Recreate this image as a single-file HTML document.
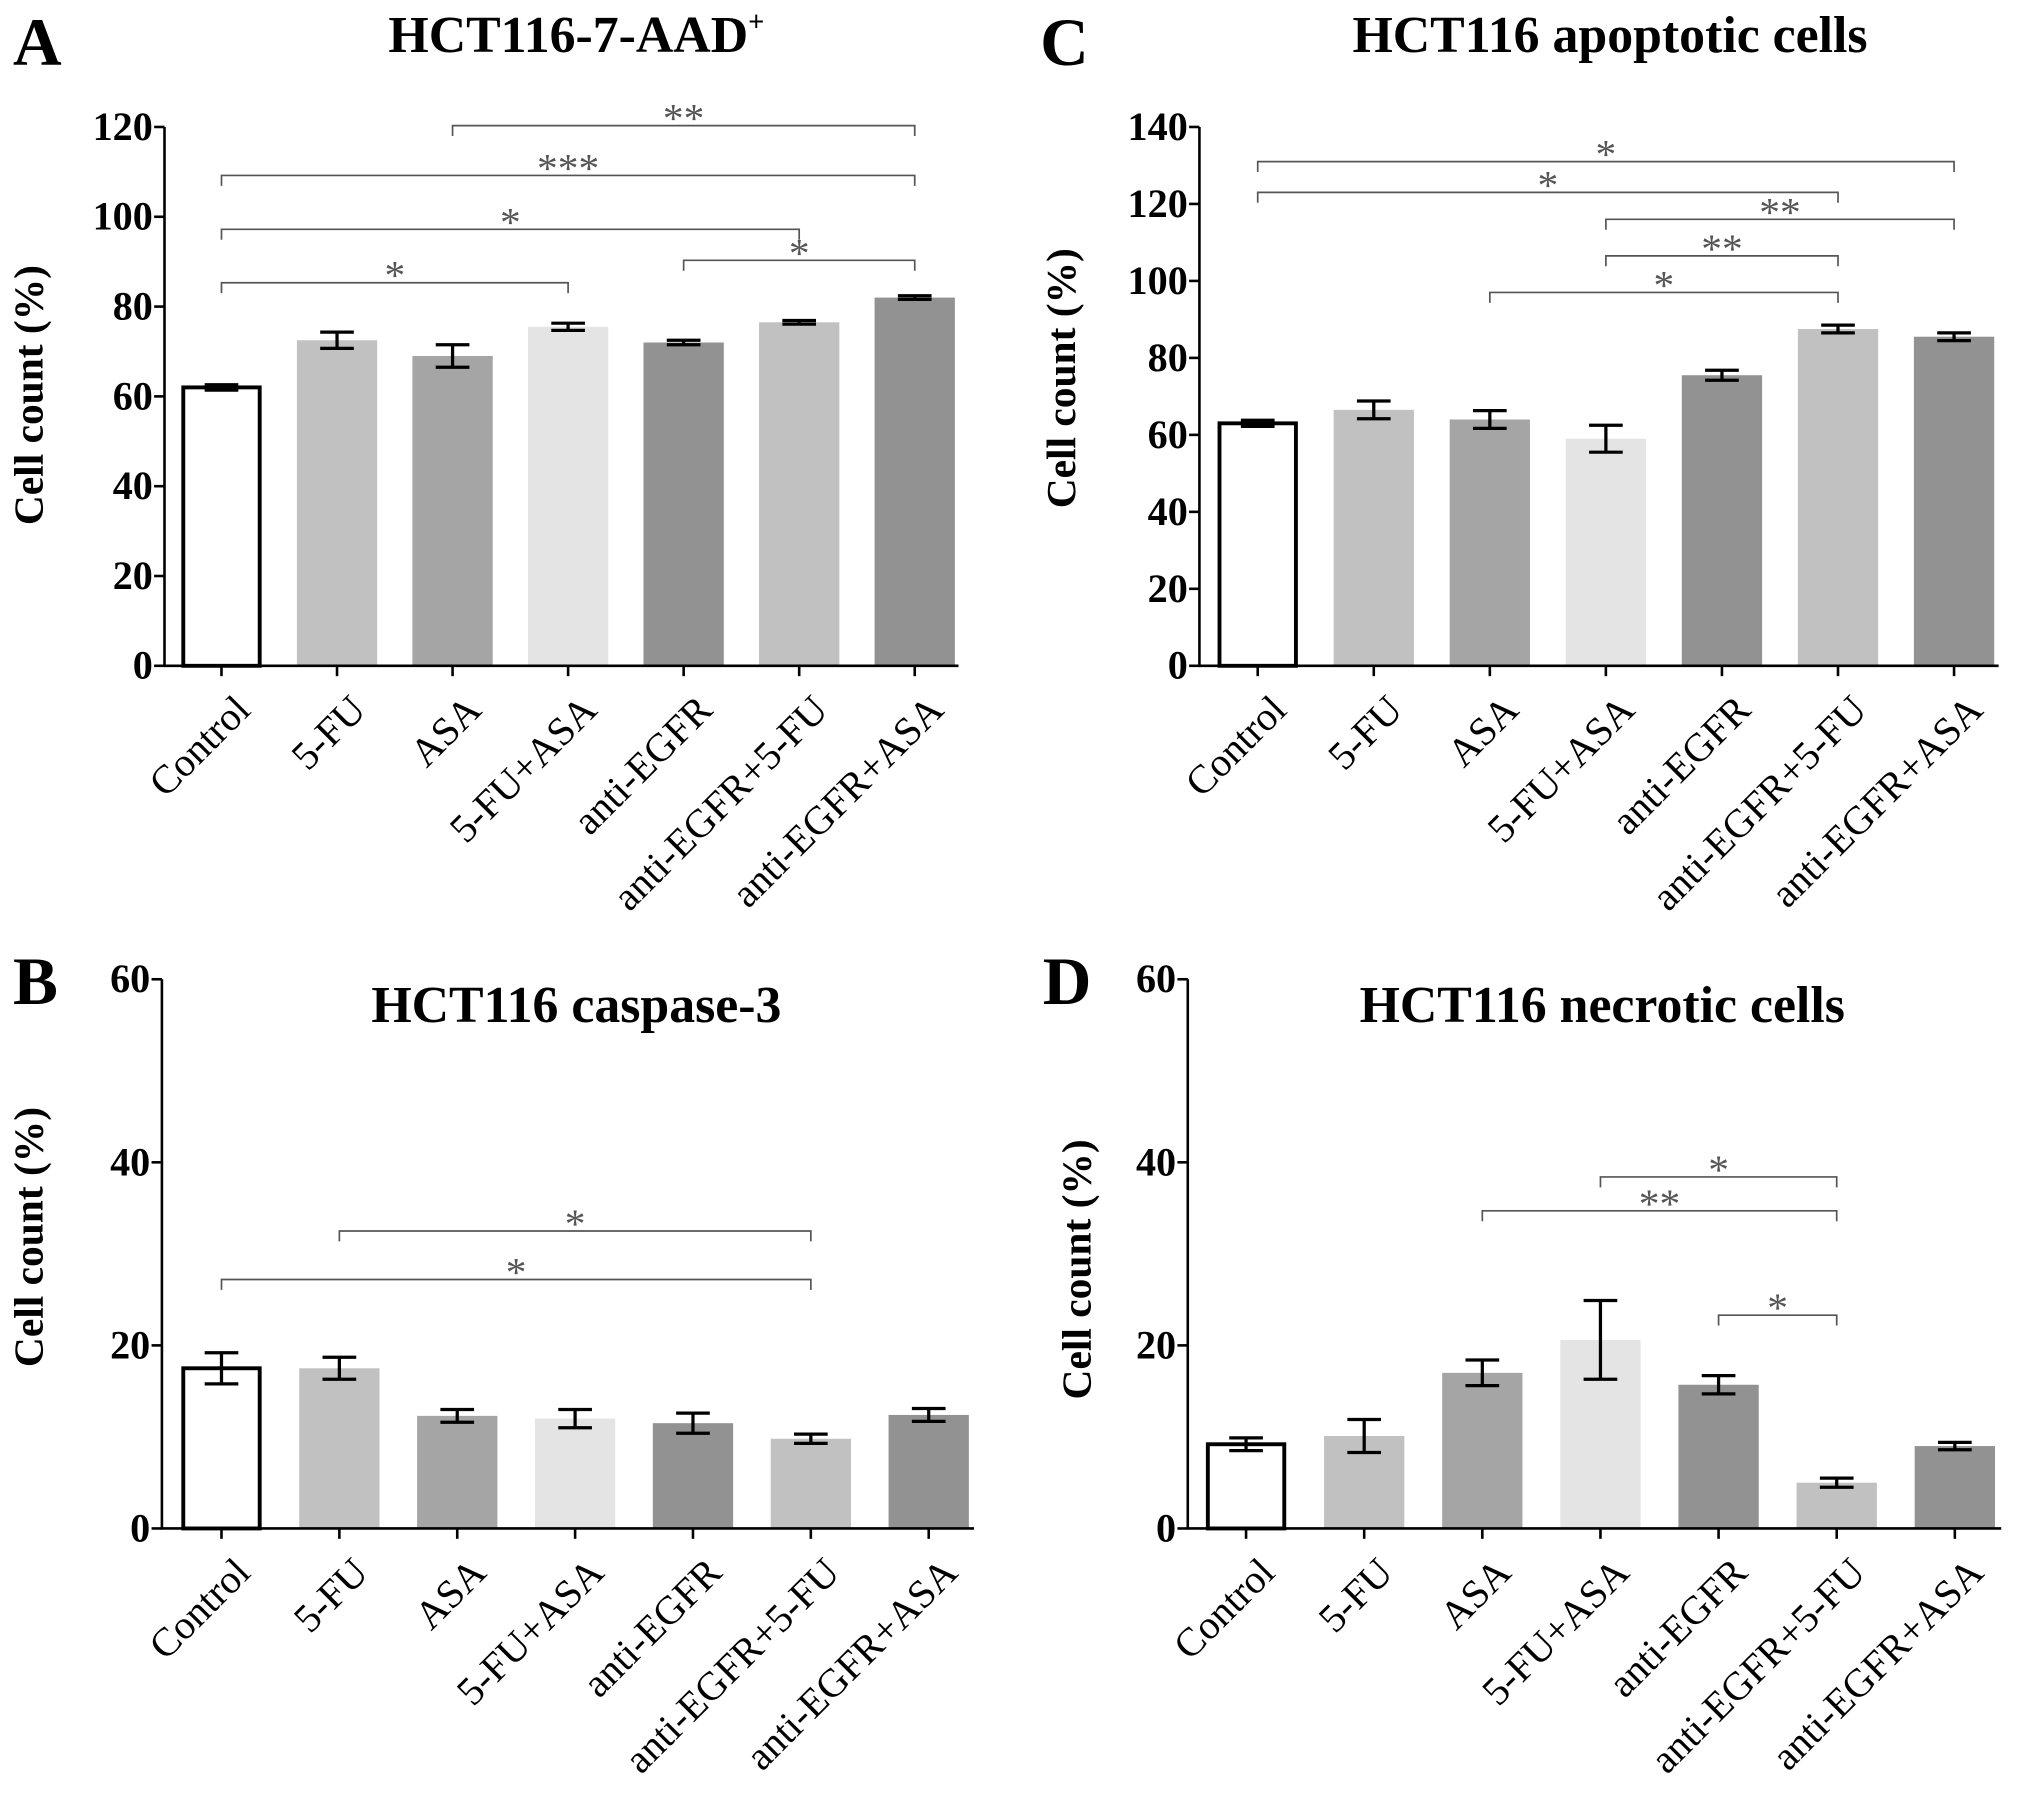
<!DOCTYPE html>
<html><head><meta charset="utf-8"><style>
html,body{margin:0;padding:0;background:#fff}
svg{display:block}
text{font-family:"Liberation Serif",serif}
</style></head><body>
<svg id="fig" width="2031" height="1815" viewBox="0 0 1568 1401.2" xmlns="http://www.w3.org/2000/svg"></svg>
<script>
const categories=["Control","5-FU","ASA","5-FU+ASA","anti-EGFR","anti-EGFR+5-FU","anti-EGFR+ASA"];
const colors=["#ffffff","#c1c1c1","#a5a5a5","#e4e4e4","#929292","#c1c1c1","#929292"];
const valuesA=[62,72.5,69,75.5,72,76.5,82];
const errorsA=[0.6,1.8,2.5,0.8,0.5,0.4,0.4];
const valuesC=[63,66.5,64,59,75.5,87.5,85.5];
const errorsC=[0.8,2.3,2.3,3.5,1.3,1,1];
const valuesB=[17.5,17.5,12.3,12,11.5,9.8,12.4];
const errorsB=[1.7,1.2,0.7,1,1.1,0.5,0.7];
const valuesD=[9.2,10.1,17,20.6,15.7,5,9];
const errorsD=[0.7,1.8,1.4,4.3,1,0.5,0.4];
const ticksA=[0,20,40,60,80,100,120];
const ticksC=[0,20,40,60,80,100,120,140];
const ticksB=[0,20,40,60];
const ticksD=[0,20,40,60];
// significance brackets: [fromIndex,toIndex,label,yValue]
const sigA=[[2,6,"**",120.3],[0,6,"***",109.2],[0,5,"*",97.2],[4,6,"*",90.3],[0,3,"*",85.3]];
const sigC=[[0,6,"*",131],[0,5,"*",123],[3,6,"**",116],[3,5,"**",106.5],[2,5,"*",97]];
const sigB=[[1,5,"*",32.5],[0,5,"*",27.2]];
const sigD=[[3,5,"*",38.4],[2,5,"**",34.7],[4,5,"*",23.3]];

const NS="http://www.w3.org/2000/svg";
const svg=document.getElementById('fig');
function el(tag,attrs,parent,txt){const e=document.createElementNS(NS,tag);for(const k in attrs)e.setAttribute(k,attrs[k]);if(txt!==undefined)e.textContent=txt;(parent||svg).appendChild(e);return e;}

function panel(p){
  const g=el('g',{});
  
  
  const ys=v=>p.y0-(v/p.ymax)*(p.y0-p.ytop);
  const xs=i=>p.c0+i*p.step;
  const L=el('text',{x:p.lx,y:p.ly,'font-size':52,'font-weight':'bold'},g,p.id);
  
  
  const T=el('text',{x:p.tx,y:p.ty,'font-size':40,'font-weight':'bold','text-anchor':'middle'},g);
  
  
  T.appendChild(document.createTextNode(p.title));
  if(p.sup){el('tspan',{'font-size':22,dy:-16},T,p.sup);}
  p.values.forEach((v,i)=>{
    const x=xs(i),y=ys(v),w=62;
    const r=el('rect',{x:x-w/2+(i===0?1.5:0),y:y,width:w-(i===0?3:0),height:p.y0-y,fill:colors[i],stroke:i===0?'#000':'none','stroke-width':i===0?3:0},g);
    
    
    const e=p.errors[i],yt=ys(v+e),yb=ys(v-e);
    const eb=el('path',{d:`M${x-13},${yt}H${x+13}M${x},${yt}V${yb}M${x-13},${yb}H${x+13}`,stroke:'#000','stroke-width':2.5,fill:'none'},g);
    
    
    const ct=el('text',{transform:`translate(${x+8},${p.y0+20}) rotate(-45)`,'font-size':31,'text-anchor':'end','dominant-baseline':'hanging'},g,categories[i]);
    
    
    el('line',{x1:x,x2:x,y1:p.y0,y2:p.y0+8,stroke:'#000','stroke-width':2},g);
  });
  const ax=el('path',{d:`M${p.ax},${p.ytop}V${p.y0}H${p.xend}`,stroke:'#000','stroke-width':2,fill:'none'},g);
  
  
  p.ticks.forEach(t=>{
    const y=ys(t);
    el('line',{x1:p.ax-8,x2:p.ax,y1:y,y2:y,stroke:'#000','stroke-width':2},g);
    const tl=el('text',{x:p.ax-9,y:y+10,'font-size':31,'font-weight':'bold','text-anchor':'end'},g,t);
    
    
  });
  const yt=el('text',{transform:`translate(${p.ylx},${p.yly}) rotate(-90)`,'font-size':32,'font-weight':'bold','text-anchor':'middle'},g,'Cell count (%)');
  
  
  p.sig.forEach(s=>{
    const x1=xs(s[0]),x2=xs(s[1]),y=ys(s[3]);
    const b=el('path',{d:`M${x1},${y+8}V${y}H${x2}V${y+8}`,stroke:'#555','stroke-width':1.3,fill:'none'},g);
    
    
    const st=el('text',{x:(x1+x2)/2,y:y+5,'font-size':32,fill:'#555','text-anchor':'middle'},g,s[2]);
    
    
  });
}
panel({id:'A',title:'HCT116-7-AAD',sup:'+',lx:10,ly:50,tx:445,ty:40,values:valuesA,errors:errorsA,ticks:ticksA,ymax:120,y0:514,ytop:98,ax:127,xend:740,c0:171,step:89.2,sig:sigA,ylx:33,yly:305});
panel({id:'C',title:'HCT116 apoptotic cells',lx:803,ly:50,tx:1243,ty:40,values:valuesC,errors:errorsC,ticks:ticksC,ymax:140,y0:514,ytop:98,ax:926,xend:1543,c0:971,step:89.6,sig:sigC,ylx:830,yly:292});
panel({id:'B',title:'HCT116 caspase-3',lx:10,ly:775,tx:445,ty:789,values:valuesB,errors:errorsB,ticks:ticksB,ymax:60,y0:1180,ytop:756,ax:125,xend:752,c0:171,step:91,sig:sigB,ylx:33,yly:955});
panel({id:'D',title:'HCT116 necrotic cells',lx:805,ly:775,tx:1237,ty:789,values:valuesD,errors:errorsD,ticks:ticksD,ymax:60,y0:1180,ytop:756,ax:917,xend:1545,c0:962,step:91.2,sig:sigD,ylx:842,yly:980});
</script>
</body></html>
